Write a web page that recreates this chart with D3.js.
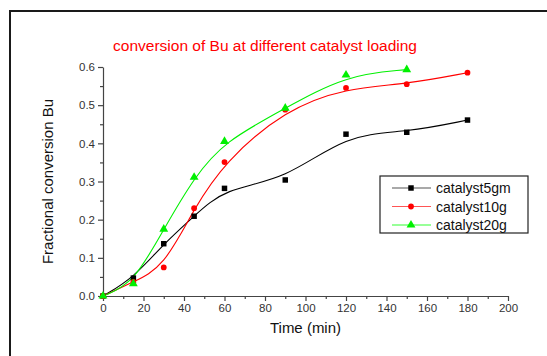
<!DOCTYPE html>
<html>
<head>
<meta charset="utf-8">
<script src="https://cdn.jsdelivr.net/npm/d3@7"></script>
<style>
  html, body { margin: 0; padding: 0; background: #fff; }
  svg { display: block; font-family: Arial, "Liberation Sans", sans-serif; }
</style>
</head>
<body>
<svg id="chart" width="547" height="356"></svg>
<script>
// Sampling times (min)
const timesMin = [0, 15, 30, 45, 60, 90, 120, 150, 180];
const timesMin20 = [0, 15, 30, 45, 60, 90, 120, 150];

// Fractional conversion of Bu for each catalyst loading
const conv5gm = [0, 0.047, 0.137, 0.209, 0.282, 0.304, 0.424, 0.429, 0.461];
const conv10g = [0, 0.037, 0.075, 0.230, 0.351, 0.488, 0.545, 0.555, 0.585];
const conv20g = [0, 0.032, 0.175, 0.311, 0.405, 0.492, 0.579, 0.593];

const seriesNames = ["catalyst5gm", "catalyst10g", "catalyst20g"];
const xTickValues = [0, 20, 40, 60, 80, 100, 120, 140, 160, 180, 200];
const yTickValues = [0.0, 0.1, 0.2, 0.3, 0.4, 0.5, 0.6];

const titleText = "conversion of Bu at different catalyst loading";
const xTitle = "Time (min)";
const yTitle = "Fractional conversion Bu";

const series = [
  { name: seriesNames[0], t: timesMin,   v: conv5gm, color: "#000000", legendLine: "#555555", symbol: d3.symbolSquare,   size: 30 },
  { name: seriesNames[1], t: timesMin,   v: conv10g, color: "#ff0000", legendLine: "#ff5555", symbol: d3.symbolCircle,   size: 26 },
  { name: seriesNames[2], t: timesMin20, v: conv20g, color: "#00f000", legendLine: "#33ff33", symbol: d3.symbolTriangle, size: 34 }
];

const svg = d3.select("#chart");

// Outer frame (extends past the window on the right and bottom)
svg.append("rect")
  .attr("x", 10).attr("y", 11)
  .attr("width", 600).attr("height", 400)
  .attr("fill", "none").attr("stroke", "#1a1a1a").attr("stroke-width", 2);

const x = d3.scaleLinear().domain([0, 200]).range([103, 508]);
const y = d3.scaleLinear().domain([0, 0.6]).range([296, 67]);

const axisColor = "#444";
const labelColor = "#333";

// X axis: major and minor ticks
svg.append("g").attr("transform", `translate(0,${y(0)})`)
  .call(d3.axisBottom(x).tickValues(xTickValues).tickSize(5).tickSizeOuter(0).tickPadding(3).tickFormat(d3.format("d")));
svg.append("g").attr("transform", `translate(0,${y(0)})`)
  .call(d3.axisBottom(x).tickValues(d3.range(10, 200, 20)).tickSize(3).tickSizeOuter(0).tickFormat(""))
  .call(g => g.select(".domain").remove());

// Y axis: major and minor ticks
svg.append("g").attr("transform", `translate(${x(0)},0)`)
  .call(d3.axisLeft(y).tickValues(yTickValues).tickSize(5).tickSizeOuter(0).tickPadding(3).tickFormat(d3.format(".1f")));
svg.append("g").attr("transform", `translate(${x(0)},0)`)
  .call(d3.axisLeft(y).tickValues(d3.range(0.05, 0.6, 0.1)).tickSize(3).tickSizeOuter(0).tickFormat(""))
  .call(g => g.select(".domain").remove());

svg.selectAll(".domain, .tick line").attr("stroke", axisColor).attr("stroke-width", 1.2);
svg.selectAll(".tick text")
  .attr("fill", labelColor)
  .style("font-size", "11.5px")
  .style("font-family", "Arial, 'Liberation Sans', sans-serif");

// Smoothed curves (B-spline through the measured points)
const line = d3.line()
  .x(d => x(d[0]))
  .y(d => y(d[1]))
  .curve(d3.curveBasis);

series.forEach(s => {
  const pts = s.t.map((t, i) => [t, s.v[i]]);
  svg.append("path")
    .datum(pts)
    .attr("d", line)
    .attr("fill", "none")
    .attr("stroke", s.color)
    .attr("stroke-width", 1.1);
});

// Markers
series.forEach(s => {
  const pts = s.t.map((t, i) => [t, s.v[i]]);
  svg.append("g").selectAll("path")
    .data(pts)
    .join("path")
    .attr("d", d3.symbol().type(s.symbol).size(s.size))
    .attr("transform", d => `translate(${x(d[0])},${y(d[1])})`)
    .attr("fill", s.color);
});

// Title
svg.append("text")
  .attr("x", 265).attr("y", 51)
  .attr("text-anchor", "middle")
  .attr("fill", "#ff0000")
  .style("font-size", "15.5px")
  .text(titleText);

// Axis titles
svg.append("text")
  .attr("x", (x(0) + x(200)) / 2).attr("y", 333)
  .attr("text-anchor", "middle")
  .attr("fill", "#111")
  .style("font-size", "15px")
  .text(xTitle);

svg.append("text")
  .attr("transform", `translate(53,${(y(0) + y(0.6)) / 2}) rotate(-90)`)
  .attr("text-anchor", "middle")
  .attr("fill", "#111")
  .style("font-size", "15px")
  .text(yTitle);

// Legend
const legend = svg.append("g").attr("transform", "translate(380,176)");
legend.append("rect")
  .attr("width", 148).attr("height", 57)
  .attr("fill", "#fff").attr("stroke", "#222").attr("stroke-width", 1.2);

series.forEach((s, i) => {
  const row = legend.append("g").attr("transform", `translate(0,${12 + i * 18.5})`);
  row.append("line")
    .attr("x1", 12).attr("x2", 51).attr("y1", 0).attr("y2", 0)
    .attr("stroke", s.legendLine).attr("stroke-width", 1.1);
  row.append("path")
    .attr("d", d3.symbol().type(s.symbol).size(s.size))
    .attr("transform", "translate(31,0)")
    .attr("fill", s.color);
  row.append("text")
    .attr("x", 56).attr("y", 5)
    .attr("fill", "#111")
    .style("font-size", "14px")
    .text(s.name);
});
</script>
</body>
</html>
